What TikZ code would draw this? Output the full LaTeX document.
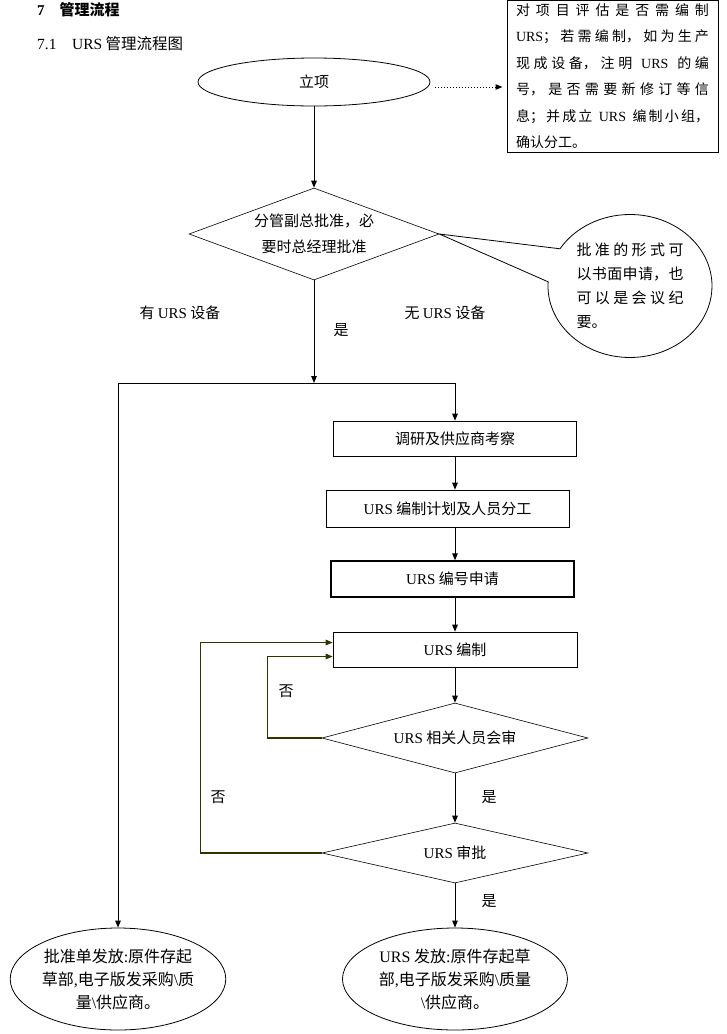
\documentclass[tikz,border=0pt]{standalone}
\usepackage{fontspec}
\setmainfont{Liberation Serif}
\newfontfamily\cjk{Noto Sans CJK SC}
\usetikzlibrary{positioning, arrows.meta}
\usetikzlibrary{shapes.geometric, shapes.callouts}
\XeTeXlinebreaklocale "zh"
\XeTeXlinebreakskip = 0pt plus 1pt
\setlength{\parindent}{0pt}
\newcommand{\en}[1]{{\rmfamily #1}}
\definecolor{loopgreen}{RGB}{51,51,0}

\tikzset{
  every node/.style={font=\cjk\fontsize{15}{26}\selectfont, inner sep=0pt},
  oval/.style={ellipse, draw, line width=0.8pt},
  endoval/.style={oval, minimum height=102pt, align=center, font=\cjk\fontsize{16}{23}\selectfont},
  procbox/.style={rectangle, draw, line width=0.6pt, minimum width=243pt, minimum height=35pt},
  decision/.style={diamond, draw, line width=0.6pt, align=center},
  notebox/.style={rectangle, draw, line width=1pt, minimum width=211pt, minimum height=152pt,
    text width=193pt, align=justify, font=\cjk\fontsize{14}{26.5}\selectfont},
  remarkcallout/.style={ellipse callout, draw, line width=0.8pt, minimum width=164pt,
    minimum height=143pt, text width=107pt, align=justify, callout pointer arc=28,
    font=\cjk\fontsize{15}{24}\selectfont},
  flow/.style={-{Triangle[length=7pt,width=5.5pt]}, line width=1pt},
  dotflow/.style={flow, dotted},
  backflow/.style={flow, draw=loopgreen, line width=1.2pt}
}

\begin{document}
\begin{tikzpicture}[x=1pt, y=-1pt]
    \useasboundingbox (0,0) rectangle (726,1034);

    % headings
    \node[anchor=west, font=\cjk\bfseries\fontsize{15}{18}\selectfont] (title) at (37,10) {\en{\textbf{7}}\quad 管理流程};
    \node[anchor=west, font=\cjk\fontsize{15.5}{18}\selectfont] (subtitle) at (37,44) {\en{7.1\quad URS} 管理流程图};

    % start and its note
    \node[oval, minimum width=232pt, minimum height=48pt] (start) at (314,82) {立项};
    \node[notebox] (note) at (612.5,76) {对项目评估是否需编制\linebreak
      \en{URS}；若需编制，如为生产\linebreak
      现成设备，注明 \en{URS} 的编\linebreak
      号，是否需要新修订等信\linebreak
      息；并成立 \en{URS} 编制小组，\linebreak
      确认分工。};
    \draw[dotflow] ([xshift=5pt,yshift=-5pt]start.east) -- ([xshift=-4pt,yshift=-5pt]start.east -| note.west);

    % approval
    \node[decision, aspect=2.7, minimum width=250pt, minimum height=92pt] (d1) at (314,234) {分管副总批准，必\\要时总经理批准};
    \node[remarkcallout, callout absolute pointer={(d1.east)}] (remark) at (630,286) {批准的形式可\linebreak
      以书面申请，也\linebreak
      可以是会议纪\linebreak
      要。};
    \draw[flow] (start) -- (d1);

    % labels of the branches
    \node (withurs) at (180,313) {有 \en{URS} 设备};
    \node (nours) at (445,313) {无 \en{URS} 设备};
    \node (yes1) at (341,330) {是};

    % split into two branches
    \coordinate (splitL) at (118,383);
    \coordinate (splitR) at (455,383);
    \coordinate (split) at (d1.south |- splitL);
    \draw[flow] (d1.south) -- (split);
    \draw[line width=1pt] (splitL) -- (splitR);

    % steps of the right branch
    \node[procbox] (survey) at (455,438.5) {调研及供应商考察};
    \node[procbox, minimum height=37pt] (plan) at (447.5,508.5) {\en{URS} 编制计划及人员分工};
    \node[procbox, minimum height=36pt, line width=1.3pt] (number) at (452.5,579) {\en{URS} 编号申请};
    \node[procbox, minimum width=244pt] (compile) at (455,649.5) {\en{URS} 编制};
    \node[decision, aspect=3.8, minimum width=266pt, minimum height=70pt] (d2) at (455,738) {\en{URS} 相关人员会审};
    \node[decision, aspect=4.4, minimum width=266pt, minimum height=60pt] (d3) at (455,853) {\en{URS} 审批};

    \draw[flow] (splitR) -- (survey.north);
    \draw[flow] (survey.south) -- (survey.south |- plan.north);
    \draw[flow] (survey.south |- plan.south) -- (survey.south |- number.north);
    \draw[flow] (survey.south |- number.south) -- (compile.north);
    \draw[flow] (compile) -- (d2);
    \draw[flow] (d2) -- (d3);

    % loops back to drafting
    \draw[backflow] (d2.west) -- ++(-54,0) |- ([yshift=-7pt]compile.west);
    \draw[backflow] (d3.west) -- ++(-121,0) |- ([yshift=7pt]compile.west);
    \node (no1) at (286,691) {否};
    \node (no2) at (218,797) {否};
    \node (yes2) at (489,797) {是};
    \node (yes3) at (489,901) {是};

    % the two ends
    \node[endoval, minimum width=184pt] (endL) at (118,979)
      {批准单发放\en{:}原件存起\\草部\en{,}电子版发采购\en{\textbackslash}质\\量\en{\textbackslash}供应商。};
    \node[endoval, minimum width=225pt] (endR) at (455,979)
      {\en{URS} 发放\en{:}原件存起草\\部\en{,}电子版发采购\en{\textbackslash}质量\\\en{\textbackslash}供应商。};
    \draw[flow] (splitL) -- (endL.north);
    \draw[flow] (d3) -- (endR.north);

  \end{tikzpicture}
\end{document}
